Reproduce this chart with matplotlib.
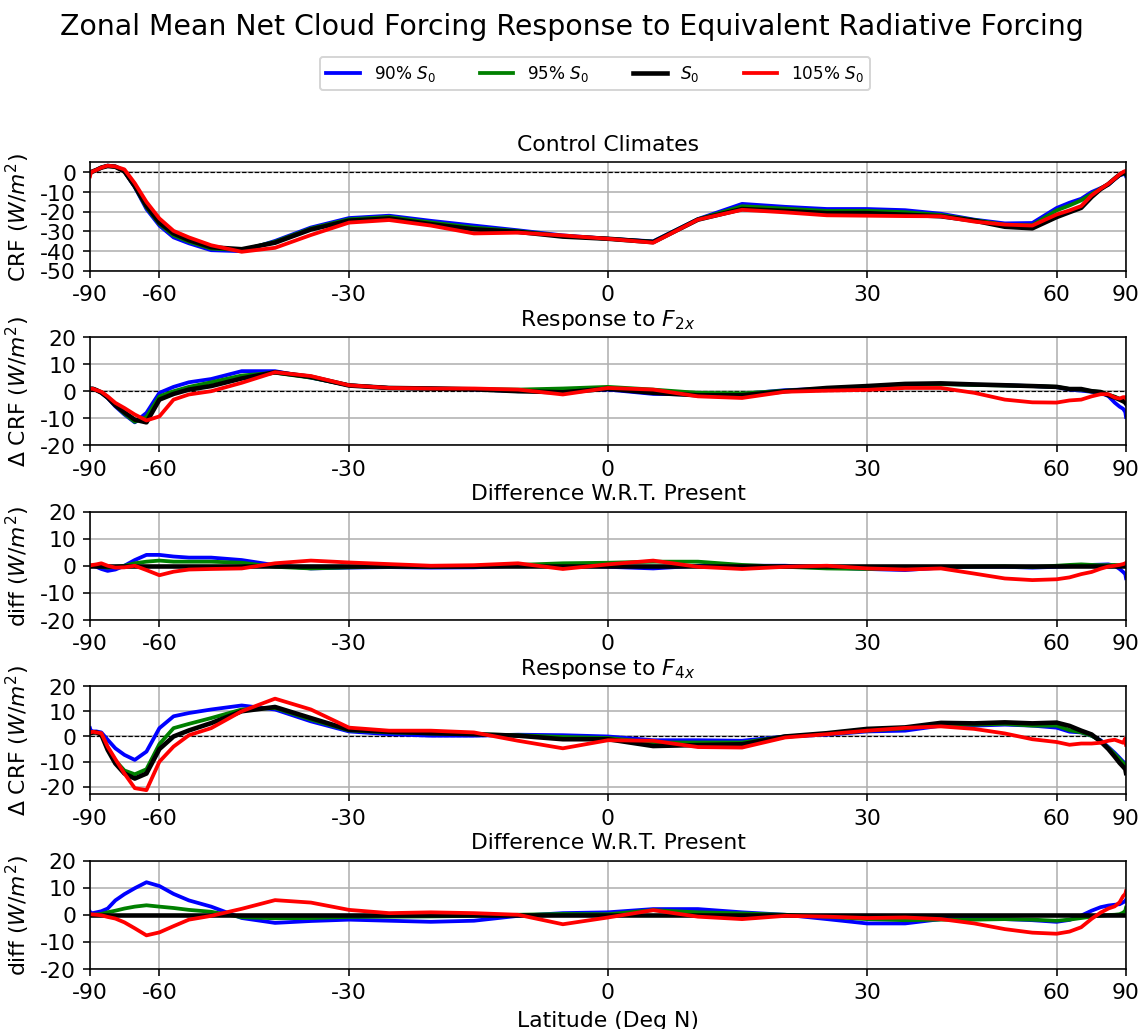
import numpy as np
import matplotlib
matplotlib.use("Agg")
import matplotlib.pyplot as plt

# Latitude grid (degrees north)
lat = [-90, -87, -84, -81, -78, -75, -72, -69, -66, -63, -60, -57, -54,
       -50, -45, -40, -35, -30, -25, -20, -15, -10, -5, 0, 5, 10, 15, 20,
       25, 30, 35, 40, 45, 50, 55, 60, 63, 66, 69, 72, 75, 78, 81, 84, 87, 90]

labels = ["90% $S_0$", "95% $S_0$", "$S_0$", "105% $S_0$"]
colors = ["blue", "green", "black", "red"]

# Control climate net cloud radiative forcing (W/m^2)
ctrl_90 = [-0.5, 0, 0.5, 1.2, 2.4, 3.4, 3, 0.5, -7.5, -18.6, -27, -33, -36,
           -39.5, -40, -34.8, -28, -23.2, -22, -24.6, -27, -29.4, -32, -33.7, -35, -23.7, -16, -17.5,
           -18.6, -18.6, -19.2, -21, -24, -25.9, -25.7, -18.1, -15.4, -13.4, -10, -8, -6.3, -3.5, -1.5, -1, -0.7, -1.9]
ctrl_95 = [-0.6, 0, 0.5, 1.2, 2.4, 3.3, 2.9, 0.5, -7.2, -17.8, -26.2, -32, -35.2,
           -38.7, -39.4, -35.2, -28.5, -23.8, -22.6, -25.4, -28, -29.8, -32.3, -33.7, -35.2, -23.8, -17.2, -18.4,
           -19.6, -19.5, -20.2, -21.6, -24.2, -26.6, -26.8, -19.3, -16.8, -14.2, -11, -8.2, -6.1, -3.3, -1.3, -0.6, -0.5, -1.2]
ctrl_100 = [-0.7, 0, 0.5, 1.2, 2.4, 3.2, 2.8, 0.5, -7, -17, -25.5, -31, -34.4,
            -38, -39, -35.7, -29, -24.5, -23.4, -26.3, -28.9, -30.2, -32.6, -33.7, -35.4, -24, -18.6, -19.6,
            -20.7, -20.7, -21.5, -22.3, -24.5, -27.6, -28.4, -22.7, -20.2, -18, -12.5, -8.5, -6, -3.2, -1.2, -0.3, -0.3, -0.7]
ctrl_105 = [-2, -0.3, 0.5, 1.2, 2.4, 3.4, 3, 1.5, -5.5, -15, -23.4, -29.7, -33,
            -37, -40.3, -38.3, -31.8, -25.5, -24.2, -27, -31, -30.6, -32, -33.7, -35.7, -24, -19, -20.3,
            -21.8, -22, -22.2, -22.3, -25, -26.5, -27, -21.4, -19.3, -17.1, -11.7, -8.3, -5.8, -3.2, -1, 0.2, 0.7, 0.5]

# Response to 2xCO2-equivalent forcing
d2x_90 = [0.9, 0.9, 0.9, 0.4, -0.6, -2.5, -5.6, -8.6, -11.5, -8, -0.6, 1.6, 3.3,
          4.5, 7.4, 7.4, 5, 2.2, 1.2, 1, 0.7, 0, 0.2, 0.6, -1, -1.2, -1, 0.4,
          0.9, 1.5, 2.5, 2.7, 2.4, 2.2, 1.9, 1.5, 0.6, 0.2, -0.2, -0.6, -1.8, -4.2, -5.7, -6.5, -7.7, -9.5]
d2x_95 = [0.9, 0.9, 0.9, 0.4, -0.5, -2.3, -5.2, -8.3, -11.3, -9.5, -1.9, 0, 1.6,
          3.3, 5.8, 6.8, 5, 2.2, 1.2, 1, 0.8, 0.6, 1, 1.6, 0.6, -0.6, -0.8, 0.2,
          0.9, 1.2, 2.4, 2.6, 2.3, 2.1, 1.9, 1.6, 0.8, 0.6, 0, -0.3, -1.3, -2, -2.8, -3.4, -3.8, -4.2]
d2x_100 = [0.9, 0.9, 0.9, 0.4, -0.5, -2.3, -5.2, -7.8, -10.5, -11.5, -3.1, -1, 0.6,
           1.9, 4.7, 7, 5.3, 2.1, 1.2, 1, 0.7, 0, -0.4, 0.9, -0.6, -1.5, -1.5, 0,
           1.2, 1.9, 2.7, 2.9, 2.5, 2.2, 1.9, 1.6, 0.8, 0.8, 0, -0.3, -1.5, -2.3, -3.1, -3.7, -4.2, -4.6]
d2x_105 = [0.9, 0.9, 0.9, 0.4, -0.2, -1.9, -4.3, -6.2, -8.6, -10.8, -9.3, -3.1, -1.2,
           0, 3.1, 7, 5.6, 2.2, 1.2, 1, 1, 0.6, -1.2, 1.2, 0.6, -1.9, -2.5, -0.2,
           0.2, 0.5, 1.2, 1.2, -0.6, -3.1, -4.1, -4.2, -3.4, -3.1, -1.9, -1.1, -1.1, -2.3, -2.7, -2.2, -2.2, -2.7]

# Difference of the 2x responses relative to the present-day response
df2_90 = [0, 0, 0, -0.4, -1.2, -1.9, -1.4, 0, 2.1, 4, 4, 3.4, 3,
          3, 2.1, 0.2, -1, -0.7, -0.5, -0.7, -0.6, 0, 0.2, -0.4, -1, 0, 0, 0,
          -0.6, -1.2, -1.6, -0.7, -0.4, -0.4, -0.7, -0.4, -0.2, 0, 0.3, 0.4, 0.5, 0, -1.2, -2.3, -3.1, -4.6]
df2_95 = [0, 0, 0, 0, -0.4, -0.7, -0.4, 0, 0.9, 1.5, 1.9, 1.5, 1.5,
          1.5, 1.1, -0.4, -1, -0.6, -0.3, -0.4, -0.2, 0.3, 0.9, 1.1, 1.5, 1.5, 0.3, -0.4,
          -1, -1.2, -0.8, -0.4, -0.3, -0.2, -0.5, 0, 0.3, 0.5, 0.3, 0.2, 0.2, 0.3, 0.2, 0.1, 0, 0]
df2_100 = [0.0] * len(lat)
df2_105 = [0, 0.2, 0.3, 0.5, 0.9, 0, -0.7, -0.6, 0, -1.6, -3.5, -2.2, -1.4,
           -1.2, -1, 0.9, 1.9, 1.2, 0.6, 0, 0.2, 0.9, -1.2, 0.5, 1.9, -0.4, -1.2, -0.4,
           0, -1, -1.4, -1, -2.9, -4.7, -5.3, -5, -4.3, -3.1, -2.3, -1.1, -0.3, 0, 0.3, 0.6, 0.9, 1.1]

# Response to 4xCO2-equivalent forcing
d4x_90 = [3.3, 2.4, 2, 2, 1.6, -1.3, -4.7, -7.3, -9.3, -6, 3.3, 8, 9.3,
          10.7, 12.3, 10.7, 6, 2, 0.9, 0.3, 0.3, 0.7, 0.5, 0, -1.5, -1.5, -1.7, 0,
          0.7, 2, 2.3, 4.3, 4.3, 4.7, 4.3, 3.5, 1.9, 1.6, 0.3, -1.5, -4.2, -6.5, -8.5, -10, -10.5, -11]
d4x_95 = [1.5, 1.5, 1.6, 1.6, 0.8, -4.5, -9.5, -13.5, -15, -13, -3, 3.3, 5,
          7.3, 10.7, 11.3, 6.7, 2.4, 1.6, 1.2, 0.9, 0.5, -0.2, -0.6, -2.4, -2.4, -2.4, 0,
          1, 2.3, 3.2, 5, 4.7, 5, 4.3, 4.3, 2.5, 1.6, 0.3, -1.8, -4.5, -7, -9, -10.5, -11.5, -12]
d4x_100 = [1.3, 1.3, 1.6, 1.6, 0.7, -5.3, -10.7, -14.7, -16.7, -14.7, -5, 0, 2.4,
           5.3, 10, 11.7, 7.3, 2.7, 1.9, 1.3, 0.9, 0.3, -1.1, -1.1, -3.8, -3.4, -3.1, 0,
           1.3, 3, 3.6, 5.4, 5.2, 5.6, 5.2, 5.5, 4.2, 2.3, 0.8, -2, -5, -8, -10.5, -12, -13, -14.5]
d4x_105 = [1.6, 1.6, 1.9, 1.6, 1.3, -4, -9, -14.7, -20.5, -21.3, -10, -4, 0.5,
           3.3, 10, 15, 10.7, 3.5, 2.3, 2.3, 1.6, -1.7, -4.7, -1.5, -1.7, -4.2, -4.4, -0.4,
           0.9, 2.3, 3.4, 4, 3, 1.2, -1.1, -2.2, -3.3, -2.8, -2.8, -2.5, -1.7, -1.3, -2, -2.5, -0.8, -3.3]

# Difference of the 4x responses relative to the present-day response
df4_90 = [1.1, 0.6, 0.6, 0.9, 1.3, 2.3, 5.3, 7.6, 9.8, 12, 10.6, 7.7, 5.3,
          3, -1.2, -3, -2.3, -1.8, -2.2, -2.6, -2.2, -0.4, 0.6, 0.9, 2.1, 2.1, 0.9, 0,
          -1.6, -3.2, -3.2, -1.6, -1.2, -1.6, -2, -2.6, -1.9, -0.3, 1.5, 2.8, 3.4, 3.7, 3.9, 4.6, 5, 5.5]
df4_95 = [0, 0, 0, 0.1, 0.3, 0.9, 1.5, 2.3, 3, 3.5, 3, 2.5, 1.8,
          1.1, -0.9, -1.3, -1.2, -0.8, -0.7, -0.6, -0.4, 0, 0.3, 0.2, 1.7, 0.9, 0.5, 0,
          -0.7, -1.6, -2, -1.8, -1.8, -1.6, -1.8, -2.2, -1.8, -1.2, -0.7, -0.3, -0.1, 0, 0.2, 0.8, 1.5, 2.6]
df4_100 = [0.0] * len(lat)
df4_105 = [0.2, 0.2, 0.1, 0, -0.2, -0.8, -1.4, -2.8, -5, -7.6, -6.5, -4.2, -1.8,
           -0.4, 2.2, 5.4, 4.5, 1.8, 0.6, 0.9, 0.6, 0, -3.5, -1, 1.7, -0.7, -1.6, -0.4,
           -0.7, -1.2, -1, -1.6, -3.2, -5.3, -6.6, -7, -6.2, -4.6, -1.5, 0.8, 2.3, 3.1, 4.6, 6.9, 7.7, 8.7]

panels = [
    ("Control Climates", "CRF $(W/m^2)$", [ctrl_90, ctrl_95, ctrl_100, ctrl_105],
     (-50, 5), [0, -10, -20, -30, -40, -50]),
    ("Response to $F_{2x}$", "Δ CRF $(W/m^2)$", [d2x_90, d2x_95, d2x_100, d2x_105],
     (-20, 20), [-20, -10, 0, 10, 20]),
    ("Difference W.R.T. Present", "diff $(W/m^2)$", [df2_90, df2_95, df2_100, df2_105],
     (-20, 20), [-20, -10, 0, 10, 20]),
    ("Response to $F_{4x}$", "Δ CRF $(W/m^2)$", [d4x_90, d4x_95, d4x_100, d4x_105],
     (-23, 20), [-20, -10, 0, 10, 20]),
    ("Difference W.R.T. Present", "diff $(W/m^2)$", [df4_90, df4_95, df4_100, df4_105],
     (-20, 20), [-20, -10, 0, 10, 20]),
]

xticks = [-90, -60, -30, 0, 30, 60, 90]


def to_sin(x):
    return np.sin(np.deg2rad(x))


def from_sin(y):
    return np.rad2deg(np.arcsin(np.clip(y, -1, 1)))


fig, axes = plt.subplots(5, 1, figsize=(8, 7.2), dpi=143)
fig.subplots_adjust(left=90 / 1144, right=1126 / 1144,
                    top=1 - 163 / 1029, bottom=1 - 969 / 1029, hspace=0.61)

handles = []
for ax, (title, ylabel, series, ylim, yticks) in zip(axes, panels):
    ax.set_xscale("function", functions=(to_sin, from_sin))
    ax.axhline(0, color="black", lw=0.6, ls="--", zorder=1)
    lines = []
    for vals, col, lab in zip(series, colors, labels):
        lw = 2.3 if col == "black" else 1.9
        ln, = ax.plot(lat, vals, color=col, lw=lw, label=lab, zorder=2,
                      solid_joinstyle="round")
        lines.append(ln)
    handles = lines
    ax.set_xlim(-90, 90)
    ax.set_ylim(*ylim)
    ax.set_xticks(xticks)
    ax.set_xticklabels([str(t) for t in xticks])
    ax.set_yticks(yticks)
    ax.set_yticklabels([str(t) for t in yticks])
    ax.xaxis.set_minor_locator(matplotlib.ticker.NullLocator())
    ax.grid(True, color="#b0b0b0", lw=0.8)
    ax.set_axisbelow(True)
    ax.tick_params(labelsize=11)
    ax.set_title(title, fontsize=11)
    ax.set_ylabel(ylabel, fontsize=11)

axes[-1].set_xlabel("Latitude (Deg N)", fontsize=11)

fig.suptitle("Zonal Mean Net Cloud Forcing Response to Equivalent Radiative Forcing",
             fontsize=14.3, y=1 - 27 / 1029, va="center")
fig.legend(handles, labels, loc="center", ncol=4, fontsize=8.5,
           bbox_to_anchor=(595 / 1144, 1 - 74 / 1029), columnspacing=2.6)

fig.savefig("out.png", dpi=143)
